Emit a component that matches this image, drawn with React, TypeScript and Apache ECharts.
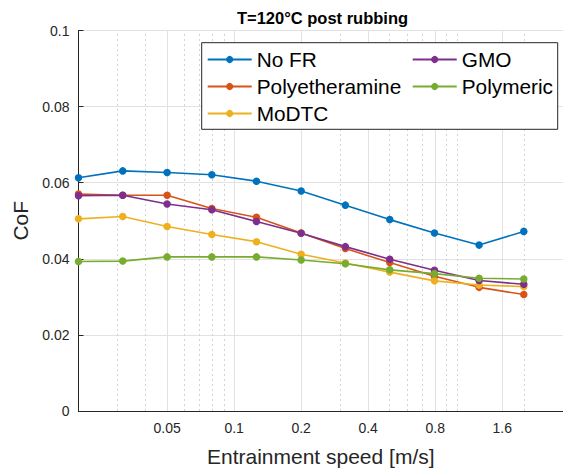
import React, { useEffect, useRef } from "react";
import * as echarts from "echarts";

const speeds = [0.02, 0.0316, 0.05, 0.0794, 0.126, 0.2, 0.316, 0.5, 0.794, 1.26, 2.0];
const noFR = [0.0613, 0.0631, 0.0627, 0.0621, 0.0604, 0.0578, 0.0541, 0.0503, 0.0468, 0.0436, 0.0472];
const polyetheramine = [0.057, 0.0567, 0.0567, 0.0532, 0.0509, 0.0468, 0.0427, 0.039, 0.0354, 0.0325, 0.0306];
const moDTC = [0.0505, 0.0511, 0.0485, 0.0464, 0.0445, 0.0412, 0.0389, 0.0365, 0.0342, 0.0331, 0.0327];
const gmo = [0.0566, 0.0567, 0.0544, 0.0529, 0.0498, 0.0467, 0.0432, 0.0399, 0.037, 0.0343, 0.0333];
const polymeric = [0.0393, 0.0394, 0.0405, 0.0405, 0.0405, 0.0397, 0.0387, 0.0371, 0.0361, 0.0349, 0.0347];

const seriesNames = ["No FR", "Polyetheramine", "MoDTC", "GMO", "Polymeric"];
const seriesValues = [noFR, polyetheramine, moDTC, gmo, polymeric];
const seriesColors = ["#0072BD", "#D95319", "#EDB120", "#7E2F8E", "#77AC30"];

const xTickValues = [0.05, 0.1, 0.2, 0.4, 0.8, 1.6];
const xTickLabels = ["0.05", "0.1", "0.2", "0.4", "0.8", "1.6"];
const xMinorGrid = [0.03, 0.04, 0.06, 0.07, 0.08, 0.09, 0.3, 0.5, 0.6, 0.7, 0.9, 1, 2, 3];

const FONT = "'Liberation Sans', Arial, Helvetica, sans-serif";
const AXIS_COLOR = "#262626";

export default function App() {
  const ref = useRef<HTMLDivElement>(null);
  useEffect(() => {
    if (!ref.current) return;
    const chart = echarts.init(ref.current, undefined, { renderer: "svg" });

    const gridLines = [
      ...xTickValues.map((v) => ({
        xAxis: v,
        lineStyle: { color: "#e2e2e2", type: "solid", width: 1 },
      })),
      ...xMinorGrid.map((v) => ({
        xAxis: v,
        lineStyle: { color: "#d4d4d4", type: [2, 3], width: 1 },
      })),
    ];

    const dataSeries = seriesNames.map((name, i) => ({
      name,
      type: "line",
      data: speeds.map((s, j) => [s, seriesValues[i][j]]),
      symbol: "circle",
      symbolSize: 7.5,
      showSymbol: true,
      color: seriesColors[i],
      lineStyle: { width: 1.6, color: seriesColors[i] },
      itemStyle: { color: seriesColors[i] },
      z: 3,
    }));

    const legendCommon = {
      orient: "vertical",
      top: 49,
      padding: 0,
      itemGap: 6,
      itemWidth: 44,
      itemHeight: 9,
      z: 6,
      textStyle: { fontSize: 20.8, color: "#000", fontFamily: FONT },
      selectedMode: false,
    };

    chart.setOption({
      animation: false,
      backgroundColor: "#ffffff",
      textStyle: { fontFamily: FONT },
      title: {
        text: "T=120°C post rubbing",
        left: 322.5,
        top: 9,
        padding: 0,
        textAlign: "center",
        textStyle: { fontSize: 16.5, fontWeight: "bold", color: "#000", fontFamily: FONT },
      },
      grid: { left: 78.5, top: 30.5, right: -7.5, bottom: 56.3, containLabel: false },
      xAxis: {
        type: "log",
        logBase: 10,
        min: 0.02,
        max: 3,
        name: "Entrainment speed [m/s]",
        nameLocation: "middle",
        nameGap: 35,
        nameTextStyle: { fontSize: 21, color: AXIS_COLOR, fontFamily: FONT },
        axisLine: { show: true, lineStyle: { color: AXIS_COLOR, width: 1 } },
        axisTick: { show: true, inside: true, length: 5, customValues: xTickValues, lineStyle: { color: AXIS_COLOR } },
        axisLabel: {
          show: true,
          customValues: xTickValues,
          fontSize: 14,
          color: AXIS_COLOR,
          margin: 10,
          fontFamily: FONT,
          formatter: (v: number) => {
            let best = 0;
            for (let k = 0; k < xTickValues.length; k++) {
              if (Math.abs(Math.log(xTickValues[k]) - Math.log(v)) < Math.abs(Math.log(xTickValues[best]) - Math.log(v))) best = k;
            }
            return xTickLabels[best];
          },
        },
        splitLine: { show: false },
        minorTick: { show: false },
        minorSplitLine: { show: false },
      },
      yAxis: {
        type: "value",
        min: 0,
        max: 0.1,
        interval: 0.02,
        name: "CoF",
        nameLocation: "middle",
        nameGap: 41,
        nameTextStyle: { fontSize: 21, color: AXIS_COLOR, fontFamily: FONT },
        axisLine: { show: true, lineStyle: { color: AXIS_COLOR, width: 1 } },
        axisTick: { show: true, inside: true, length: 5, lineStyle: { color: AXIS_COLOR } },
        axisLabel: { fontSize: 14, color: AXIS_COLOR, margin: 9, fontFamily: FONT },
        splitLine: { show: true, lineStyle: { color: "#e2e2e2", width: 1 } },
      },
      legend: [
        { ...legendCommon, data: seriesNames.slice(0, 3), left: 206.7 },
        { ...legendCommon, data: seriesNames.slice(3), left: 411.7 },
      ],
      graphic: [
        {
          type: "rect",
          z: 5,
          shape: { x: 201.7, y: 42.7, width: 356, height: 86.6 },
          style: { fill: "#ffffff", stroke: AXIS_COLOR, lineWidth: 1 },
        },
      ],
      series: [
        {
          name: "__grid",
          type: "line",
          data: [],
          z: 1,
          silent: true,
          markLine: {
            silent: true,
            z: 1,
            symbol: ["none", "none"],
            label: { show: false },
            emphasis: { disabled: true },
            data: gridLines,
          },
        },
        ...dataSeries,
      ],
    });
    return () => chart.dispose();
  }, []);
  return (
    <div
      ref={ref}
      style={{ position: "absolute", left: 0, top: 0, width: 563, height: 472, background: "#fff" }}
    />
  );
}
